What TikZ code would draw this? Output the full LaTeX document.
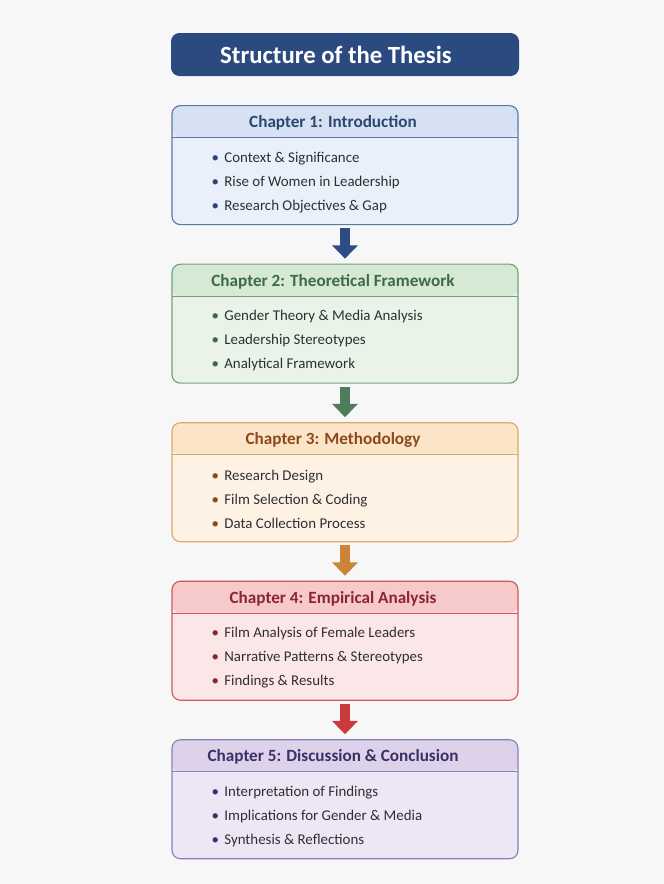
\documentclass[tikz,border=0pt]{standalone}
\usepackage{fontspec}
\setmainfont{Carlito}
\usepackage{tikz}
\usetikzlibrary{arrows.meta,positioning}

\definecolor{bgGray}{HTML}{F7F7F7}
\definecolor{titleBlue}{HTML}{2B4A80}
\definecolor{itemGray}{HTML}{2F2F33}
% chapter colours
\definecolor{blueLine}{HTML}{5B78AE}
\definecolor{blueHead}{HTML}{D6E2F4}
\definecolor{blueBody}{HTML}{EAF0FA}
\definecolor{blueText}{HTML}{2C4670}
\definecolor{blueArrow}{HTML}{2D4C84}
\definecolor{greenLine}{HTML}{72A078}
\definecolor{greenHead}{HTML}{D6E9D4}
\definecolor{greenBody}{HTML}{E9F3E7}
\definecolor{greenText}{HTML}{3E6A47}
\definecolor{greenArrow}{HTML}{4F7D5B}
\definecolor{orangeLine}{HTML}{DBA86C}
\definecolor{orangeHead}{HTML}{FCE4C6}
\definecolor{orangeBody}{HTML}{FDF2E4}
\definecolor{orangeText}{HTML}{8A4A1C}
\definecolor{orangeArrow}{HTML}{CC8538}
\definecolor{redLine}{HTML}{C95A5D}
\definecolor{redHead}{HTML}{F6CACA}
\definecolor{redBody}{HTML}{FBE7E7}
\definecolor{redText}{HTML}{8C2431}
\definecolor{redArrow}{HTML}{C93A3C}
\definecolor{purpleLine}{HTML}{8A7EB6}
\definecolor{purpleHead}{HTML}{DDD2EA}
\definecolor{purpleBody}{HTML}{EDE6F5}
\definecolor{purpleText}{HTML}{3A3068}

\newcommand{\bul}[1]{\textcolor{#1Text}{\textbullet}\hspace{0.35em}}

\begin{document}
\begin{tikzpicture}[
	node distance=0.96cm,
	font=\fontsize{10.6}{17}\selectfont
	]
\tikzset{
	titlebox/.style = { rectangle, rounded corners=6pt, fill=titleBlue, text=white, font=\fontsize{17.6}{20}\selectfont\bfseries, minimum width=8.7cm, minimum height=1.075cm },
	chapter/.style = { rectangle, rounded corners=6pt, draw=#1Line, fill=#1Body, line width=0.8pt, minimum width=8.65cm, minimum height=2.975cm,
		path picture={
			\fill[#1Head] (path picture bounding box.north west) rectangle ([yshift=-0.8cm]path picture bounding box.north east);
			\draw[#1Line, line width=0.8pt] ([yshift=-0.8cm]path picture bounding box.north west) -- ([yshift=-0.8cm]path picture bounding box.north east);
		} },
	heading/.style = { font=\fontsize{12.2}{15}\selectfont\bfseries, text=#1Text },
	items/.style = { anchor=west, align=left, inner sep=0pt, text=itemGray },
	flow/.style = { line width=0.25cm, -{Triangle[width=0.625cm, length=0.33cm]}, draw=#1Arrow, shorten <=0.075cm, shorten >=0.125cm }
}
	\path[use as bounding box, fill=bgGray] (0,0) rectangle (16.6,-22.1);

	% title
	\node (thesis) [titlebox] at (8.625,-1.3625) {Structure of the Thesis\hspace*{0.45cm}};

	% chapters
	\node (ch1) [chapter=blue, below=0.72cm of thesis] {};
	\node (ch2) [chapter=green, below=of ch1] {};
	\node (ch3) [chapter=orange, below=of ch2] {};
	\node (ch4) [chapter=red, below=of ch3] {};
	\node (ch5) [chapter=purple, below=of ch4] {};

	% headings
	\node (ch1h) [heading=blue] at ([xshift=-0.3cm, yshift=-0.45cm]ch1.north) {Chapter 1: Introduction};
	\node (ch2h) [heading=green] at ([xshift=-0.3cm, yshift=-0.45cm]ch2.north) {Chapter 2: Theoretical Framework};
	\node (ch3h) [heading=orange] at ([xshift=-0.3cm, yshift=-0.45cm]ch3.north) {Chapter 3: Methodology};
	\node (ch4h) [heading=red] at ([xshift=-0.3cm, yshift=-0.45cm]ch4.north) {Chapter 4: Empirical Analysis};
	\node (ch5h) [heading=purple] at ([xshift=-0.3cm, yshift=-0.45cm]ch5.north) {Chapter 5: Discussion \& Conclusion};

	% items
	\node (ch1i) [items] at ([xshift=1cm, yshift=-0.43cm]ch1.west) {\bul{blue}Context \& Significance\\ \bul{blue}Rise of Women in Leadership\\ \bul{blue}Research Objectives \& Gap};
	\node (ch2i) [items] at ([xshift=1cm, yshift=-0.43cm]ch2.west) {\bul{green}Gender Theory \& Media Analysis\\ \bul{green}Leadership Stereotypes\\ \bul{green}Analytical Framework};
	\node (ch3i) [items] at ([xshift=1cm, yshift=-0.43cm]ch3.west) {\bul{orange}Research Design\\ \bul{orange}Film Selection \& Coding\\ \bul{orange}Data Collection Process};
	\node (ch4i) [items] at ([xshift=1cm, yshift=-0.43cm]ch4.west) {\bul{red}Film Analysis of Female Leaders\\ \bul{red}Narrative Patterns \& Stereotypes\\ \bul{red}Findings \& Results};
	\node (ch5i) [items] at ([xshift=1cm, yshift=-0.43cm]ch5.west) {\bul{purple}Interpretation of Findings\\ \bul{purple}Implications for Gender \& Media\\ \bul{purple}Synthesis \& Reflections};

	% arrows
	\draw [flow=blue] (ch1) -- (ch2);
	\draw [flow=green] (ch2) -- (ch3);
	\draw [flow=orange] (ch3) -- (ch4);
	\draw [flow=red] (ch4) -- (ch5);

\end{tikzpicture}
\end{document}
